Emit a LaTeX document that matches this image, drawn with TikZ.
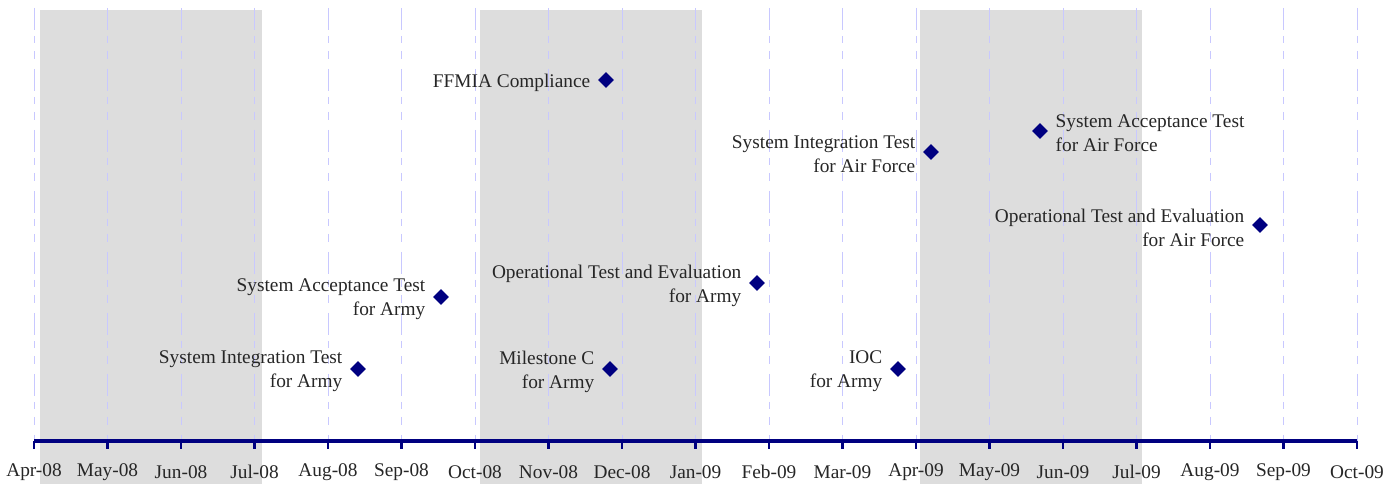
\documentclass[tikz,border=0pt]{standalone}
\usepackage{fontspec}
\setmainfont{Liberation Serif}
\usetikzlibrary{positioning,shapes.geometric}

\definecolor{bandgray}{RGB}{221,221,221}
\definecolor{gridblue}{RGB}{200,200,255}
\definecolor{mnavy}{RGB}{0,0,128}

\tikzset{
    band/.style={fill=bandgray, draw=none},
    gridline/.style={gridblue, line width=0.5pt,
        dash pattern=on 0.44cm off 0.12cm on 0.14cm off 0.16cm on 0.16cm off 0.2cm},
    milestone/.style={diamond, fill=mnavy, draw=none, inner sep=0pt, minimum size=0.32cm},
    lbl/.style={inner sep=0pt, font=\fontsize{11}{13.6}\selectfont, text=black!85},
    lblL/.style={lbl, align=right, yshift=-1.5pt},
    lblR/.style={lbl, align=left, yshift=-1.5pt}
}

\begin{document}
\begin{tikzpicture}[x=1.47cm, y=1cm]
    \useasboundingbox (-0.463,-0.86) rectangle (18.558,8.82);
    % quarter bands
    \foreach \s in {0.08, 6.07, 12.05}
        \fill[band] (\s,-0.86) rectangle (\s+3.02,8.62);
    % month grid
    \foreach \i in {0,...,18}
        \draw[gridline] (\i,8.66) -- (\i,0);
    % time axis
    \draw[mnavy, line width=2.3pt] (0,0) -- (18,0);
    \foreach \m [count=\i from 0] in {Apr-08,May-08,Jun-08,Jul-08,Aug-08,Sep-08,Oct-08,Nov-08,Dec-08,Jan-09,Feb-09,Mar-09,Apr-09,May-09,Jun-09,Jul-09,Aug-09,Sep-09,Oct-09}
        \draw[mnavy, line width=1.2pt] (\i,0) -- (\i,-0.16) node[lbl, anchor=center, yshift=-0.46cm] {\m};

    % milestones
    \node[milestone] (ffmia) at (7.782,7.22) {};
    \node[milestone] (sitaf) at (12.204,5.78) {};
    \node[milestone] (sataf) at (13.687,6.20) {};
    \node[milestone] (oteaf) at (16.680,4.32) {};
    \node[milestone] (satarmy) at (5.537,2.88) {};
    \node[milestone] (otearmy) at (9.837,3.16) {};
    \node[milestone] (sitarmy) at (4.408,1.44) {};
    \node[milestone] (msc) at (7.837,1.44) {};
    \node[milestone] (ioc) at (11.755,1.44) {};

    % labels
    \node[lblL, left=0.14cm of ffmia] (ffmiaL) {FFMIA Compliance};
    \node[lblL, left=0.14cm of sitaf] (sitafL) {System Integration Test\\for Air Force};
    \node[lblR, right=0.14cm of sataf] (satafL) {System Acceptance Test\\for Air Force};
    \node[lblL, left=0.14cm of oteaf] (oteafL) {Operational Test and Evaluation\\for Air Force};
    \node[lblL, left=0.14cm of satarmy] (satarmyL) {System Acceptance Test\\for Army};
    \node[lblL, left=0.14cm of otearmy] (otearmyL) {Operational Test and Evaluation\\for Army};
    \node[lblL, left=0.14cm of sitarmy] (sitarmyL) {System Integration Test\\for Army};
    \node[lblL, left=0.14cm of msc] (mscL) {Milestone C\\for Army};
    \node[lblL, left=0.14cm of ioc] (iocL) {IOC\\for Army};
\end{tikzpicture}
\end{document}
